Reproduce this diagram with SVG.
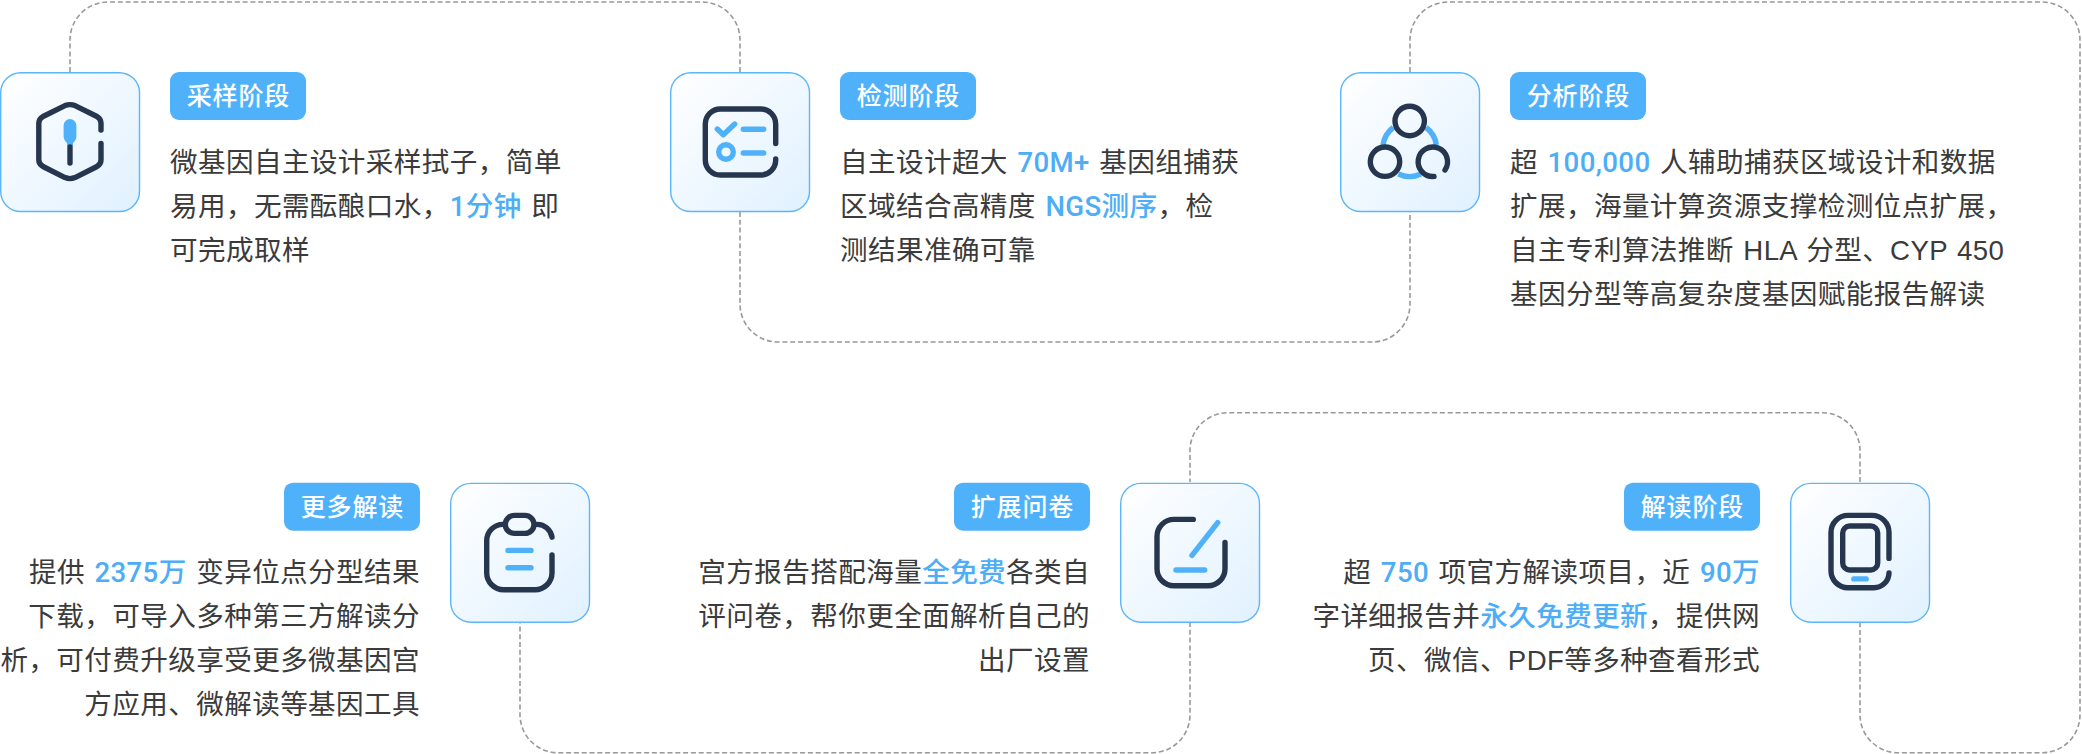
<svg xmlns="http://www.w3.org/2000/svg" width="2082" height="754" viewBox="0 0 2082 754">
<defs>
<linearGradient id="cardFill" x1="0" y1="0" x2="1" y2="1"><stop offset="0" stop-color="#ffffff"/><stop offset="1" stop-color="#e0f1ff"/></linearGradient>
</defs>
<style>
text{font-family:"Liberation Sans","Noto Sans CJK SC",sans-serif}
.card{fill:url(#cardFill);stroke:#5db6f7;stroke-width:1.4}
.tag{fill:#50b1fb}
.tagt{fill:#fff;font-size:25px;font-weight:500;letter-spacing:0.8px;text-anchor:middle}
.body{fill:#3b3b3b;font-size:27.6px;letter-spacing:0.38px;word-spacing:1.5px}
.end{text-anchor:end}
.hl{fill:#4dadf7;font-family:Roboto,"Noto Sans CJK SC",sans-serif;font-weight:500}
.dk{fill:none;stroke:#26364f;stroke-width:5.4;stroke-linecap:round;stroke-linejoin:round}
.bl{fill:none;stroke:#50b1fb;stroke-width:5.4;stroke-linecap:round;stroke-linejoin:round}
.conn{fill:none;stroke:#999;stroke-width:1.6;stroke-dasharray:5 2.8}
</style>
<g id="connectors">
<path class="conn" d="M70 72V40A38 38 0 0 1 108 2H702A38 38 0 0 1 740 40V72"/>
<path class="conn" d="M740 212V304A38 38 0 0 0 778 342H1372A38 38 0 0 0 1410 304V212"/>
<path class="conn" d="M1410 72V40A38 38 0 0 1 1448 2H2042A38 38 0 0 1 2080 40V714.700A38 38 0 0 1 2042 752.700H1898A38 38 0 0 1 1860 714.700V622"/>
<path class="conn" d="M1860 482V450.700A38 38 0 0 0 1822 412.700H1228A38 38 0 0 0 1190 450.700V482"/>
<path class="conn" d="M1190 622V714.700A38 38 0 0 1 1152 752.700H558A38 38 0 0 1 520 714.700V622"/>
</g>
<g id="node-sampling">
<rect class="card" x="0.7" y="72.7" width="138.8" height="138.8" rx="20"/>
<path class="dk" d="M101 130V123Q101 119 97 116.5L75 105.6Q70 103.6 65 105.6L43 116.5Q38.8 119 38.8 123V160Q38.8 164 43 166.5L65 177.6Q70 179.6 75 177.6L97 166.5Q101 164 101 160V143.5"/>
<path d="M70 119A6.5 6.5 0 0 1 76.4 125.500V136Q76.4 140 73 143V146H67V143Q63.600 140 63.600 136V125.500A6.500 6.500 0 0 1 70 119Z" fill="#50b1fb"/>
<path class="dk" d="M70 147V163"/>
<rect class="tag" x="170" y="72" width="136" height="48" rx="9"/>
<text class="tagt" x="238.400" y="105">采样阶段</text>
<text class="body" x="170" y="171.500">微基因自主设计采样拭子，简单</text>
<text class="body" x="170" y="215.500">易用，无需酝酿口水，<tspan class="hl">1分钟</tspan> 即</text>
<text class="body" x="170" y="259.500">可完成取样</text>
</g>
<g id="node-detection">
<rect class="card" x="670.7" y="72.7" width="138.800" height="138.800" rx="20"/>
<path class="dk" d="M775.700 143.500V124A15 15 0 0 0 760.700 109H720.300A15 15 0 0 0 705.300 124V160A15 15 0 0 0 720.300 175H760.700A15 15 0 0 0 775.700 160V159"/>
<path class="bl" d="M717.300 129L723.300 134.700L734.700 124M743.300 129.300H763.700M743.300 153H763.700"/>
<circle class="bl" cx="726" cy="152" r="7.300"/>
<rect class="tag" x="840" y="72" width="136" height="48" rx="9"/>
<text class="tagt" x="908.400" y="105">检测阶段</text>
<text class="body" x="840" y="171.500">自主设计超大 <tspan class="hl">70M+</tspan> 基因组捕获</text>
<text class="body" x="840" y="215.500">区域结合高精度 <tspan class="hl">NGS测序</tspan>，检</text>
<text class="body" x="840" y="259.500">测结果准确可靠</text>
</g>
<g id="node-analysis">
<rect class="card" x="1340.700" y="72.700" width="138.800" height="138.800" rx="20"/>
<path class="bl" style="stroke-linecap:butt" d="M1383 145A27 27 0 0 1 1393.300 127.500M1436.400 145A27 27 0 0 0 1426.100 127.500M1398.300 174A27 27 0 0 0 1421 174"/>
<circle class="dk" cx="1409.700" cy="121" r="14.700"/>
<circle class="dk" cx="1385" cy="161.700" r="14.700"/>
<path class="dk" d="M1445 170A14.700 14.700 0 1 0 1434 176.400"/>
<rect class="tag" x="1510" y="72" width="136" height="48" rx="9"/>
<text class="tagt" x="1578.400" y="105">分析阶段</text>
<text class="body" x="1510" y="171.500">超 <tspan class="hl">100,000</tspan> 人辅助捕获区域设计和数据</text>
<text class="body" x="1510" y="215.500">扩展，海量计算资源支撑检测位点扩展，</text>
<text class="body" x="1510" y="259.500">自主专利算法推断 HLA 分型、CYP 450</text>
<text class="body" x="1510" y="303.500">基因分型等高复杂度基因赋能报告解读</text>
</g>
<g id="node-interpret" transform="translate(0 0.7)">
<rect class="card" x="1790.700" y="482.700" width="138.800" height="138.800" rx="20"/>
<path class="dk" d="M1889 557.700V531.700A17 17 0 0 0 1872 514.700H1848A17 17 0 0 0 1831 531.700V570A17 17 0 0 0 1848 587H1874A15 15 0 0 0 1889 572.300"/>
<rect class="dk" x="1842.700" y="525.300" width="35" height="44" rx="7"/>
<path class="bl" d="M1853.800 578.200H1866.200"/>
<rect class="tag" x="1624" y="482" width="136" height="48" rx="9"/>
<text class="tagt" x="1692.400" y="515">解读阶段</text>
<text class="body end" x="1760" y="581">超 <tspan class="hl">750</tspan> 项官方解读项目，近 <tspan class="hl">90万</tspan></text>
<text class="body end" x="1760" y="625">字详细报告并<tspan class="hl">永久免费更新</tspan>，提供网</text>
<text class="body end" x="1760" y="669">页、微信、PDF等多种查看形式</text>
</g>
<g id="node-survey" transform="translate(0 0.7)">
<rect class="card" x="1120.700" y="482.700" width="138.800" height="138.800" rx="20"/>
<path class="dk" d="M1193.300 518.700H1174A17 17 0 0 0 1157 535.700V568A17 17 0 0 0 1174 585H1208A17 17 0 0 0 1225 568V541.700"/>
<path class="bl" d="M1217.700 522L1192 554.700M1176 569.300H1204.700"/>
<rect class="tag" x="954" y="482" width="136" height="48" rx="9"/>
<text class="tagt" x="1022.400" y="515">扩展问卷</text>
<text class="body end" x="1090" y="581">宫方报告搭配海量<tspan class="hl">全免费</tspan>各类自</text>
<text class="body end" x="1090" y="625">评问卷，帮你更全面解析自己的</text>
<text class="body end" x="1090" y="669">出厂设置</text>
</g>
<g id="node-more" transform="translate(0 0.7)">
<rect class="card" x="450.700" y="482.700" width="138.800" height="138.800" rx="20"/>
<path class="dk" d="M552 536.500A15 15 0 0 0 537 523.700M503 523.700A16.300 16.300 0 0 0 486.700 540V572A17 17 0 0 0 503.700 589H535A17 17 0 0 0 552 572V554.300"/>
<rect class="dk" x="505.300" y="514.700" width="28.700" height="18" rx="9"/>
<path class="bl" d="M508 549.700H531M508 567H531"/>
<rect class="tag" x="284" y="482" width="136" height="48" rx="9"/>
<text class="tagt" x="352.400" y="515">更多解读</text>
<text class="body end" x="420" y="581">提供 <tspan class="hl">2375万</tspan> 变异位点分型结果</text>
<text class="body end" x="420" y="625">下载，可导入多种第三方解读分</text>
<text class="body end" x="420" y="669">析，可付费升级享受更多微基因宫</text>
<text class="body end" x="420" y="713">方应用、微解读等基因工具</text>
</g>
</svg>
